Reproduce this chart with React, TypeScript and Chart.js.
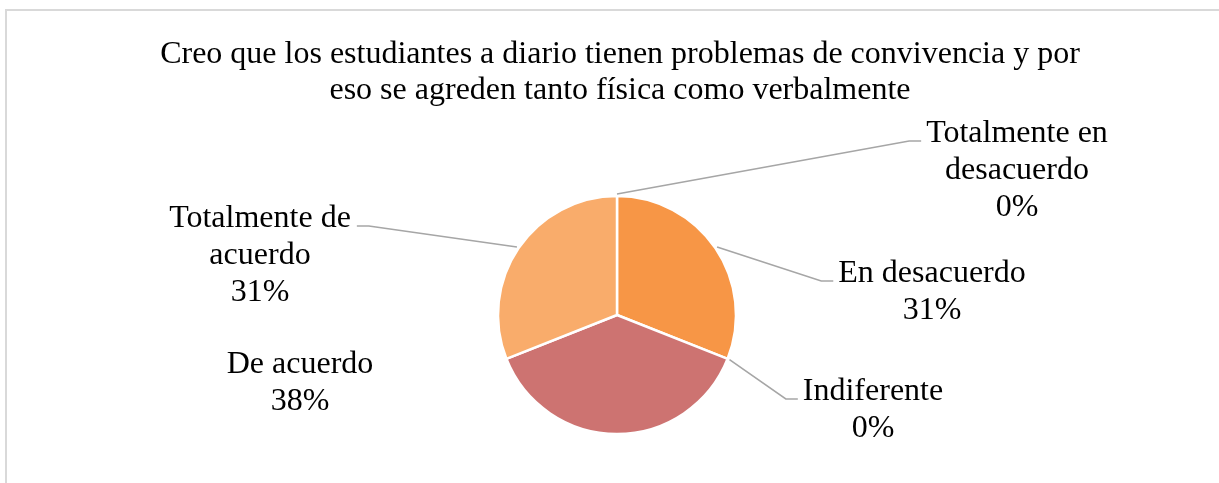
import { useEffect, useRef } from "react";
import { Chart, registerables } from "chart.js";

Chart.register(...registerables);

const TITLE_LINES = [
  "Creo que los estudiantes a diario tienen problemas de convivencia y por",
  "eso se agreden tanto física como verbalmente",
];

const CATEGORIES: string[][] = [
  ["Totalmente en", "desacuerdo"],
  ["En desacuerdo"],
  ["Indiferente"],
  ["De acuerdo"],
  ["Totalmente de", "acuerdo"],
];

const PERCENTAGES = [0, 31, 0, 38, 31];

const SLICE_COLORS = ["#FAC090", "#F79646", "#E46C0A", "#CD7371", "#F9AC6B"];

// label placement (style): center x of text block, baseline of first line
const LABEL_ANCHORS = [
  { x: 1017, y: 142, side: "right", leader: true },
  { x: 932, y: 282, side: "right", leader: true },
  { x: 873, y: 400, side: "right", leader: true },
  { x: 300, y: 373, side: "left", leader: false },
  { x: 260, y: 227, side: "left", leader: true },
];

const FONT = "32px 'Liberation Serif', 'Times New Roman', serif";
const LINE_HEIGHT = 37;

const labelsPlugin = {
  id: "customLabels",
  afterDraw(chart: any) {
    const ctx = chart.ctx;
    ctx.save();
    ctx.font = FONT;
    ctx.fillStyle = "#000";
    ctx.textAlign = "center";
    ctx.textBaseline = "alphabetic";
    // title
    TITLE_LINES.forEach((t, i) => ctx.fillText(t, 620, 63 + i * 36));

    const meta = chart.getDatasetMeta(0);
    meta.data.forEach((arc: any, i: number) => {
      const a = LABEL_ANCHORS[i];
      const lines = [...CATEGORIES[i], `${PERCENTAGES[i]}%`];
      const w = ctx.measureText(lines[0]).width;
      if (a.leader) {
        const mid = (arc.startAngle + arc.endAngle) / 2;
        const r = arc.outerRadius + 2;
        const sx = arc.x + Math.cos(mid) * r;
        const sy = arc.y + Math.sin(mid) * r;
        const ly = a.y - 1;
        let ex: number, elx: number;
        if (a.side === "right") {
          ex = a.x - w / 2 - 5;
          elx = ex - 12;
        } else {
          ex = a.x + w / 2 + 6;
          elx = ex + 12;
        }
        ctx.strokeStyle = "#a6a6a6";
        ctx.lineWidth = 1.6;
        ctx.beginPath();
        ctx.moveTo(sx, sy);
        ctx.lineTo(elx, ly);
        ctx.lineTo(ex, ly);
        ctx.stroke();
      }
      lines.forEach((t, j) => ctx.fillText(t, a.x, a.y + j * LINE_HEIGHT));
    });
    ctx.restore();
  },
};

export default function App() {
  const ref = useRef<HTMLCanvasElement>(null);
  useEffect(() => {
    if (!ref.current) return;
    const chart = new Chart(ref.current, {
      type: "pie",
      data: {
        labels: CATEGORIES.map((c) => c.join(" ")),
        datasets: [
          {
            data: PERCENTAGES,
            backgroundColor: SLICE_COLORS,
            borderColor: "#ffffff",
            borderWidth: 2.5,
          },
        ],
      },
      options: {
        responsive: false,
        animation: false,
        radius: 119,
        layout: { padding: { left: 497, right: 482, top: 195, bottom: 48 } },
        plugins: {
          legend: { display: false },
          title: { display: false },
          tooltip: { enabled: false },
        },
      } as any,
      plugins: [labelsPlugin],
    });
    return () => chart.destroy();
  }, []);
  return (
    <div
      style={{
        position: "fixed",
        left: 0,
        top: 0,
        width: 1219,
        height: 483,
        overflow: "hidden",
        background: "#fff",
      }}
    >
      <div
        style={{
          position: "absolute",
          left: 5,
          top: 9,
          width: 1400,
          height: 800,
          border: "2px solid #d9d9d9",
        }}
      />
      <canvas
        ref={ref}
        width={1219}
        height={483}
        style={{ position: "absolute", left: 0, top: 0 }}
      />
    </div>
  );
}
